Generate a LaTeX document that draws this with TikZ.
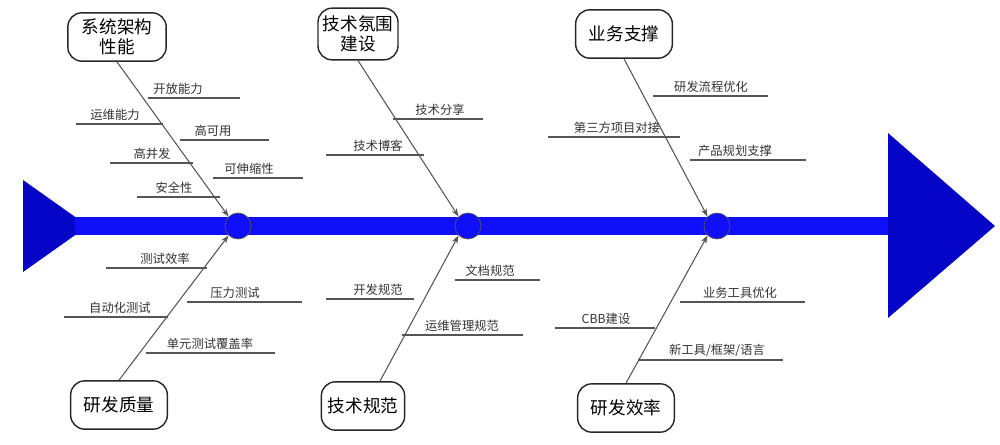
\documentclass[tikz,border=0pt]{standalone}
\usepackage{fontspec}
\setmainfont{Noto Sans CJK SC}
\usetikzlibrary{arrows.meta}
\definecolor{spine}{RGB}{15,15,250}
\definecolor{head}{RGB}{5,5,200}
\definecolor{ln}{RGB}{85,85,85}
\begin{document}
\begin{tikzpicture}[x=0.03cm,y=-0.03cm,
  box/.style={draw=black!85,line width=1.2pt,rounded corners=12pt,minimum width=2.9cm,minimum height=1.45cm,align=center,font=\fontsize{15}{17}\selectfont,inner sep=2pt},
  lab/.style={font=\fontsize{10.5}{12}\selectfont,text=black!80,inner sep=1pt},
  ul/.style={draw=ln,line width=0.9pt},
  bone/.style={draw=ln,line width=0.9pt,-{Stealth[length=7pt,width=5pt]}},
  hub/.style={circle,fill=spine,draw=ln,line width=0.6pt,minimum size=0.78cm,inner sep=0pt}]
\useasboundingbox (0,0) rectangle (1000,444);
\fill[head] (23,180) -- (88,226) -- (23,272) -- cycle;
\fill[spine] (75,217) rectangle (890,235);
\fill[head] (888,133) -- (995,226) -- (888,318) -- cycle;
\node[hub] (h1) at (238,226) {};
\node[hub] (h2) at (468,226) {};
\node[hub] (h3) at (717,226) {};
\node[box,minimum width=2.95cm] (b1) at (117,37) {系统架构\\性能};
\node[box,minimum width=2.4cm,minimum height=1.55cm] (b2) at (358,34) {技术氛围\\建设};
\node[box] (b3) at (624,34) {业务支撑};
\node[box] (b4) at (119,405) {研发质量};
\node[box,minimum width=2.5cm] (b5) at (363,406) {技术规范};
\node[box] (b6) at (626,408) {研发效率};
\draw[bone] (b1.south) -- (h1.north west);
\draw[bone] (b4.north) -- (h1.south west);
\draw[bone] (b2.south) -- (h2.north west);
\draw[bone] (b5.north) ++(17,0) coordinate (c5) (c5) -- (h2.south west);
\draw[bone] (b3.south) -- (h3.north west);
\draw[bone] (b6.north) -- (h3.south west);
\newcommand\lb[5]{\draw[ul] (#2,#4) -- (#3,#4); \node[lab,anchor=south] at (#1,#4-2) {#5};}
\lb{178}{148}{240}{98}{开放能力}
\lb{115}{76}{163}{124}{运维能力}
\lb{213}{180}{269}{140}{高可用}
\lb{152}{110}{193}{163}{高并发}
\lb{249}{213}{303}{178}{可伸缩性}
\lb{174}{137}{220}{197}{安全性}
\lb{165}{106}{207}{268}{测试效率}
\lb{235}{187}{302}{302}{压力测试}
\lb{120}{64}{168}{317}{自动化测试}
\lb{210}{146}{275}{353}{单元测试覆盖率}
\lb{440}{393}{483}{119}{技术分享}
\lb{378}{326}{424}{155}{技术博客}
\lb{490}{455}{540}{280}{文档规范}
\lb{378}{326}{414}{299}{开发规范}
\lb{462}{402}{523}{335}{运维管理规范}
\lb{711}{653}{768}{96}{研发流程优化}
\lb{617}{548}{680}{137}{第三方项目对接}
\lb{735}{690}{806}{160}{产品规划支撑}
\lb{740}{680}{805}{302}{业务工具优化}
\lb{606}{555}{655}{328}{CBB建设}
\lb{717}{638}{783}{360}{新工具/框架/语言}
\end{tikzpicture}
\end{document}
